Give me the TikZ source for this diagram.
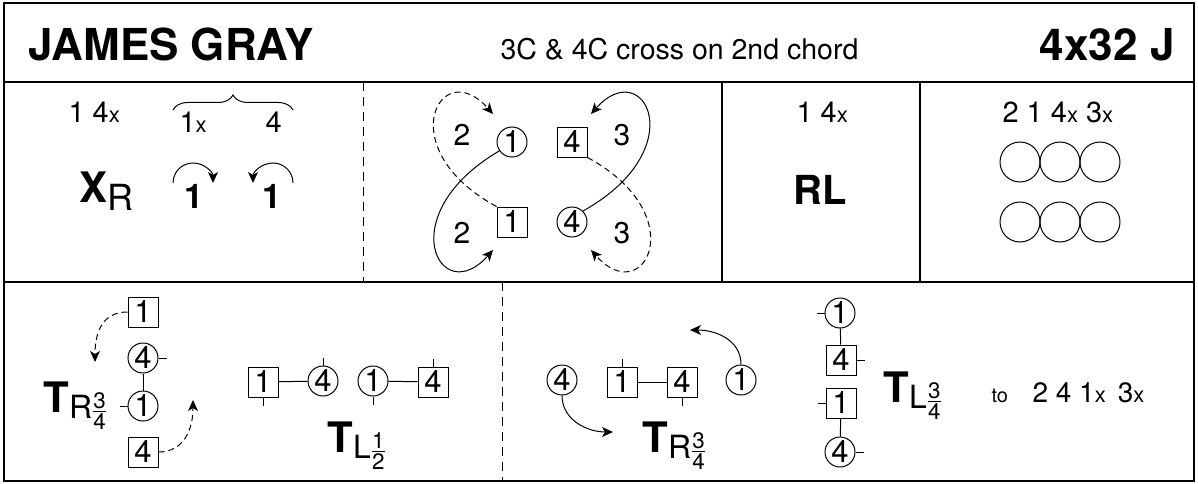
\documentclass[tikz,border=0pt]{standalone}
\usepackage{fontspec}
\setmainfont{TeX Gyre Heros}
\usepackage{amsmath}
\usetikzlibrary{arrows.meta,decorations.pathreplacing}
\newcommand{\fsz}[1]{\fontsize{#1}{#1}\selectfont}
\newcommand{\xx}{{\fsz{22}x}}
\newcommand{\turn}[4]{{\fsz{42}\bfseries #1}\raisebox{-6pt}{\fsz{32}#2$\frac{\text{#3}}{\text{#4}}$}}
\tikzset{
  woman/.style={draw, circle, minimum size=30pt, inner sep=0pt, font=\fsz{31}},
  man/.style={draw, rectangle, minimum size=30pt, inner sep=0pt, font=\fsz{31}},
  lbl/.style={inner sep=0pt, anchor=base west},
  divider/.style={dash pattern=on 9pt off 6pt},
  track/.style={dash pattern=on 6pt off 4pt},
}
\begin{document}
\begin{tikzpicture}[>={Stealth[length=11pt,width=10pt,inset=3pt]}, x=1pt, y=-1pt, line width=1pt]
\useasboundingbox (0,0) rectangle (1198,484);
\draw[line width=1.3pt] (4,3) rectangle (1194,481);
\draw[line width=1.3pt] (4,82)--(1194,82) (4,282)--(1194,282) (722,82)--(722,282) (920,82)--(920,282);
\draw[divider] (363,82)--(363,282) (502,282)--(502,481);

\node[lbl, font=\fsz{44}\bfseries] (title) at (28,61) {JAMES GRAY};
\node[lbl, font=\fsz{28.5}] (info) at (500,60) {3C \& 4C cross on 2nd chord};
\node[lbl, anchor=base east, font=\fsz{44}\bfseries] (bars) at (1175,61) {4x32 J};

\node[lbl, font=\fsz{29}] (posA) at (68,122) {1 4\xx};
\node[lbl, font=\fsz{29}] (posB) at (179,132) {1\xx};
\node[lbl, font=\fsz{29}] (posC) at (265,132) {4};
\draw[decorate, decoration={brace, amplitude=15pt}] (173,110) -- (293,110);
\node[lbl] (xr) at (79,202) {{\fsz{42}\bfseries X}\raisebox{-8pt}{\fsz{36}R}};
\node[font=\fsz{34}\bfseries, inner sep=0pt] (oneA) at (194,196) {1};
\node[font=\fsz{34}\bfseries, inner sep=0pt] (oneB) at (272,196) {1};
\draw[->] (173,183) arc[start angle=180, end angle=360, radius=20];
\draw[->] (293,183) arc[start angle=0, end angle=-180, radius=20];

\node[woman] (c1) at (512,142) {1};
\node[man] (s4) at (572,142) {4};
\node[man] (s1) at (512,222) {1};
\node[woman] (c4) at (572,222) {4};
\node[font=\fsz{30}] (twoA) at (462,135) {2};
\node[font=\fsz{30}] (twoB) at (462,233) {2};
\node[font=\fsz{30}] (threeA) at (622,135) {3};
\node[font=\fsz{30}] (threeB) at (622,233) {3};
\coordinate (t1) at (493,250);
\coordinate (t2) at (493,114);
\coordinate (t3) at (591,114);
\coordinate (t4) at (591,250);
\draw[->] (c1.215) .. controls (390,215) and (440,310) .. (t1);
\draw[->, track] (s1.north west) .. controls (390,149) and (440,54) .. (t2);
\draw[->] (c4.45) .. controls (694,149) and (644,54) .. (t3);
\draw[->, track] (s4.south east) .. controls (694,215) and (644,310) .. (t4);

\node[lbl, font=\fsz{29}] (posD) at (796,122) {1 4\xx};
\node[font=\fsz{40}\bfseries] (rl) at (820,190) {RL};

\node[lbl, font=\fsz{29}] (posE) at (1002,122) {2 1 4\xx\ 3\xx};
\foreach \i/\x/\y in {1/1020/162, 2/1060/162, 3/1100/162, 4/1020/222, 5/1060/222, 6/1100/222}
{
    \node[draw, circle, minimum size=40pt, inner sep=0pt] (set\i) at (\x,\y) {};
}

\node[man] (sqA1) at (143,312) {1};
\node[woman] (ciA4) at (143,358) {4};
\node[woman] (ciA1) at (143,406) {1};
\node[man] (sqA4) at (143,452) {4};
\draw (ciA4) -- (ciA1);
\draw (ciA4.east) -- ++(8,0);
\draw (ciA1.west) -- ++(-8,0);
\node[lbl] (trA) at (43,412) {\turn{T}{R}{3}{4}};
\coordinate (tA) at (95,362);
\coordinate (tB) at (193,400);
\draw[->, track] (sqA1.west) .. controls +(-25,0) and +(0,-30) .. (tA);
\draw[->, track] (sqA4.east) .. controls +(25,0) and +(0,30) .. (tB);

\node[man] (sqB1) at (263,382) {1};
\node[woman] (ciB4) at (323,381) {4};
\node[woman] (ciB1) at (373,381) {1};
\node[man] (sqB4) at (433,382) {4};
\draw (sqB1) -- (ciB4);
\draw (ciB1) -- (sqB4);
\draw (sqB1.south) -- ++(0,8);
\draw (ciB4.north) -- ++(0,-8);
\draw (ciB1.south) -- ++(0,8);
\draw (sqB4.north) -- ++(0,-8);
\node[lbl] (tlB) at (327,452) {\turn{T}{L}{1}{2}};

\node[woman] (ciC4) at (562,380) {4};
\node[man] (sqC1) at (622,382) {1};
\node[man] (sqC4) at (682,382) {4};
\node[woman] (ciC1) at (741,380) {1};
\draw (sqC1) -- (sqC4);
\draw (sqC1.north) -- ++(0,-8);
\draw (sqC4.south) -- ++(0,8);
\node[lbl] (trC) at (642,452) {\turn{T}{R}{3}{4}};
\coordinate (tC) at (690,330);
\coordinate (tD) at (613,432);
\draw[->] (ciC1.north) .. controls +(0,-25) and +(25,0) .. (tC);
\draw[->] (ciC4.south) .. controls +(0,25) and +(-25,0) .. (tD);

\node[woman] (ciD1) at (840,313) {1};
\node[man] (sqD4) at (841,360) {4};
\node[man] (sqD1) at (841,403) {1};
\node[woman] (ciD4) at (840,452) {4};
\draw (ciD1) -- (sqD4);
\draw (sqD1) -- (ciD4);
\draw (ciD1.west) -- ++(-8,0);
\draw (sqD4.east) -- ++(8,0);
\draw (sqD1.west) -- ++(-8,0);
\draw (ciD4.east) -- ++(8,0);
\node[lbl] (tlD) at (883,402) {\turn{T}{L}{3}{4}};
\node[lbl, font=\fsz{20}] (to) at (991,402) {to};
\node[lbl, font=\fsz{28}] (endpos) at (1032,402) {2 4 1\xx\hspace{12pt}3\xx};
\end{tikzpicture}
\end{document}
